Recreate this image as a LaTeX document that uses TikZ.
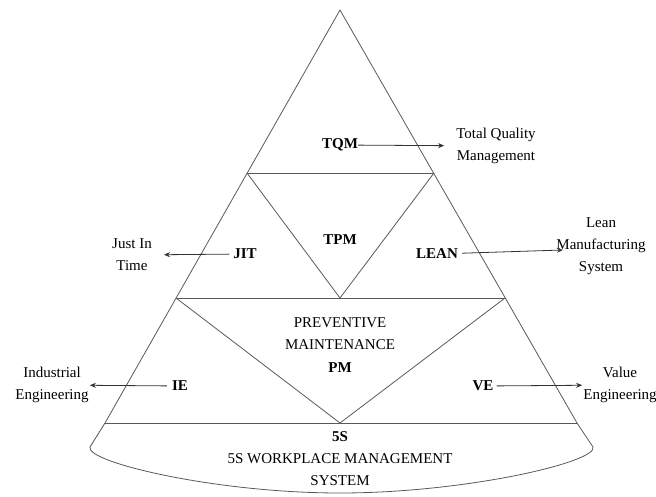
\documentclass[tikz,border=0pt]{standalone}
\usepackage{fontspec}
\setmainfont{Liberation Serif}
\usetikzlibrary{arrows.meta}

\begin{document}
\begin{tikzpicture}[x=1pt,y=-1pt]
        \tikzset{every node/.style={font=\fontsize{15}{22}\selectfont,align=center,inner sep=1pt},
            abbr/.style={font=\fontsize{15}{22}\selectfont\bfseries,inner sep=0pt},
            part/.style={draw=black!65,line width=0.8pt,line join=round},
            link/.style={draw=black!80,line width=0.8pt,-{Stealth[length=6pt,width=5pt]}}}
        \useasboundingbox (0,0) rectangle (656,497);
        \coordinate (apex) at (340,10);
        \coordinate (a1) at (247,173);
        \coordinate (a2) at (434,173);
        \coordinate (b1) at (176,298);
        \coordinate (b2) at (505,298);
        \coordinate (bm) at (340,298);
        \coordinate (c1) at (105,423);
        \coordinate (c2) at (577,423);
        \coordinate (cm) at (340,423);
        \coordinate (d1) at (90,447);
        \coordinate (d2) at (593,447);
        \draw[part] (apex) -- (c1) -- (d1)
            .. controls (85,462) and (215,493) .. (340,493)
            .. controls (465,493) and (598,462) .. (d2) -- (c2) -- cycle;
        \draw[part] (a1) -- (a2) (b1) -- (b2) (c1) -- (c2);
        \draw[part] (a1) -- (bm) -- (a2);
        \draw[part] (b1) -- (cm) -- (b2);
        \node[abbr] (tqm) at (340,145) {TQM};
        \node (tqmtext) at (496,146) {Total Quality\\Management};
        \node[abbr] (tpm) at (340,240) {TPM};
        \node[abbr] (jit) at (245,254) {JIT};
        \node (jittext) at (132,255) {Just In\\Time};
        \node[abbr] (lean) at (437,254) {LEAN};
        \node (leantext) at (601,246) {Lean\\Manufacturing\\System};
        \node (pm) at (340,334) {PREVENTIVE\\MAINTENANCE};
        \node[abbr] (pmabbr) at (340,368) {PM};
        \node[abbr] (ie) at (180,386) {IE};
        \node (ietext) at (52,385) {Industrial\\Engineering};
        \node[abbr] (ve) at (483,386) {VE};
        \node (vetext) at (620,385) {Value\\Engineering};
        \node[abbr] (fives) at (340,437) {5S};
        \node (fivestext) at (340,470) {5S WORKPLACE MANAGEMENT\\SYSTEM};
        \draw[link,shorten >=11pt] (tqm) -- (tqmtext);
        \draw[link,shorten <=4pt,shorten >=11pt] (jit) -- (jittext);
        \draw[link,shorten <=4pt] (lean) -- ([xshift=-38pt,yshift=-4pt]leantext.center);
        \draw[link,shorten <=5pt] (ie) -- (ietext);
        \draw[link,shorten <=3pt] (ve) -- (vetext);
\end{tikzpicture}
\end{document}
